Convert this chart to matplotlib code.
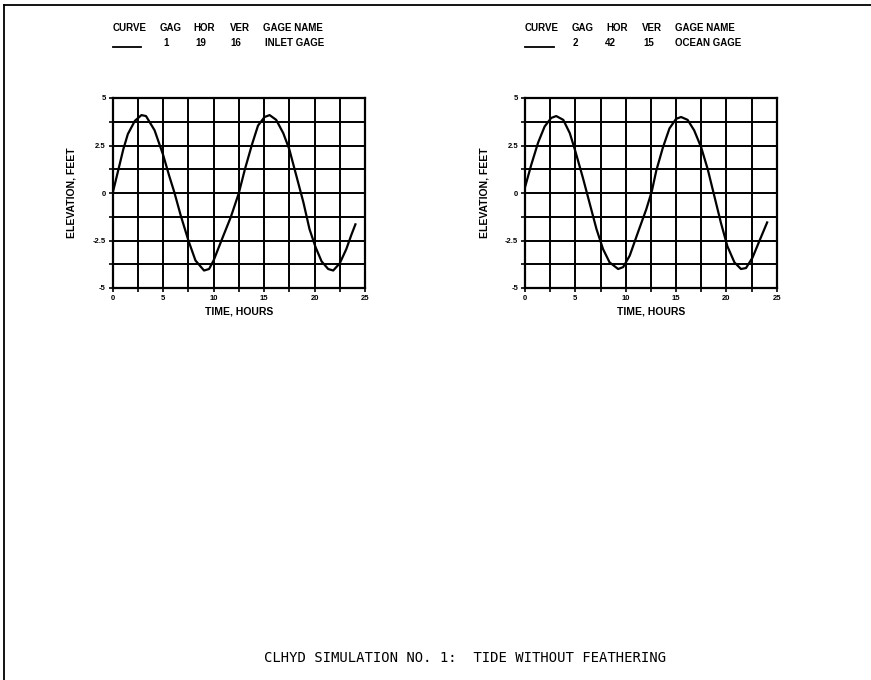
import matplotlib
matplotlib.use("Agg")
import matplotlib.pyplot as plt
from matplotlib.lines import Line2D

W, H = 871, 680

# Gage 1 (inlet) water surface elevation, feet, vs time, hours
hours_inlet = [0, 0.55, 1.05, 1.5, 2.2, 2.85, 3.3, 4.15, 5.0, 5.6, 6.1, 6.75, 7.5, 8.2,
               9.05, 9.55, 10.0, 10.85, 11.7, 12.5, 13.1, 13.8, 14.4, 15.05, 15.55, 16.2,
               16.9, 17.5, 18.2, 18.9, 19.5, 20.1, 20.7, 21.35, 21.85, 22.5, 23.15, 23.65, 24.05]
elev_inlet = [0.0, 1.2, 2.3, 3.1, 3.8, 4.1, 4.05, 3.3, 2.0, 0.9, 0.05, -1.2, -2.5, -3.55,
              -4.08, -4.0, -3.55, -2.4, -1.27, 0.0, 1.25, 2.55, 3.55, 4.0, 4.1, 3.85,
              3.15, 2.3, 0.9, -0.5, -1.9, -2.85, -3.6, -4.0, -4.08, -3.7, -2.95, -2.2, -1.65]

# Gage 2 (ocean)
hours_ocean = [0, 0.63, 1.3, 1.95, 2.6, 3.1, 3.8, 4.45, 5.0, 5.75, 6.4, 7.1, 7.75, 8.4,
               9.25, 9.75, 10.4, 11.2, 12.05, 12.6, 13.05, 13.7, 14.35, 15.0, 15.5, 16.15,
               16.8, 17.5, 18.15, 18.8, 19.45, 20.1, 20.8, 21.45, 21.95, 22.6, 23.3, 24.05]
elev_ocean = [0.3, 1.5, 2.65, 3.5, 3.95, 4.05, 3.85, 3.15, 2.2, 0.8, -0.5, -1.9, -2.95, -3.65,
              -4.0, -3.9, -3.3, -2.1, -0.85, 0.1, 1.2, 2.4, 3.4, 3.9, 4.0, 3.85,
              3.3, 2.4, 1.25, -0.15, -1.55, -2.8, -3.65, -4.0, -3.95, -3.4, -2.5, -1.55]

gage_numbers = ["1", "2"]
hor_values = ["19", "42"]
ver_values = ["16", "15"]
gage_names = ["INLET GAGE", "OCEAN GAGE"]
header_labels = ["CURVE", "GAG", "HOR", "VER", "GAGE NAME"]

x_ticks = [0, 2.5, 5, 7.5, 10, 12.5, 15, 17.5, 20, 22.5, 25]
x_labels = ["0", "", "5", "", "10", "", "15", "", "20", "", "25"]
y_ticks = [-5, -3.75, -2.5, -1.25, 0, 1.25, 2.5, 3.75, 5]
y_labels = ["-5", "", "-2.5", "", "0", "", "2.5", "", "5"]

title = "CLHYD SIMULATION NO. 1:  TIDE WITHOUT FEATHERING"

SANS = ["Liberation Sans", "DejaVu Sans"]

fig = plt.figure(figsize=(W / 100, H / 100), dpi=100)
fig.patch.set_facecolor("white")


def fx(px):
    return px / W


def fy(py):
    return 1 - py / H


def ptext(x, y, s, **kw):
    fig.text(fx(x), fy(y), s, **kw)


# sheet border (top and left edges)
fig.add_artist(Line2D([fx(4), fx(871)], [fy(5), fy(5)], color="black", lw=1.3))
fig.add_artist(Line2D([fx(4), fx(4)], [fy(5), fy(680)], color="black", lw=1.3))

panels = [
    dict(left=112.7, right=365.0, hours=hours_inlet, elev=elev_inlet, idx=0,
         hx=[113, 160, 193, 230, 263], vx=[163, 195, 230, 265], line=(113, 141)),
    dict(left=525.0, right=776.7, hours=hours_ocean, elev=elev_ocean, idx=1,
         hx=[525, 572, 606, 642, 675], vx=[573, 605, 643, 675], line=(525, 554)),
]
top_px, bot_px = 98.0, 288.0

for p in panels:
    ax = fig.add_axes([fx(p["left"]), fy(bot_px), (p["right"] - p["left"]) / W,
                       (bot_px - top_px) / H])
    ax.plot(p["hours"], p["elev"], color="black", lw=1.6, solid_joinstyle="round")
    ax.set_xlim(0, 25)
    ax.set_ylim(-5, 5)
    ax.set_xticks(x_ticks)
    ax.set_xticklabels(x_labels)
    ax.set_yticks(y_ticks)
    ax.set_yticklabels(y_labels)
    ax.grid(True, color="black", lw=1.4)
    ax.set_axisbelow(False)
    for s in ax.spines.values():
        s.set_linewidth(1.6)
    ax.tick_params(direction="out", length=3, width=1.2, pad=2, labelsize=5.5)
    for lab in ax.get_xticklabels() + ax.get_yticklabels():
        lab.set_fontweight("bold")
        lab.set_family(SANS)

    xc = (p["left"] + p["right"]) / 2
    ptext(xc, 312, "TIME, HOURS", ha="center", va="center", fontsize=7.5,
          fontweight="bold", family=SANS)
    ptext(p["left"] - 41, 193, "ELEVATION, FEET", ha="center", va="center",
          rotation=90, fontsize=7.5, fontweight="bold", family=SANS)

    # curve identification block
    for x, s in zip(p["hx"], header_labels):
        ptext(x, 28, s, ha="left", va="center", fontsize=7, fontweight="bold",
              family=SANS)
    i = p["idx"]
    for x, s in zip(p["vx"], [gage_numbers[i], hor_values[i], ver_values[i], gage_names[i]]):
        ptext(x, 43, s, ha="left", va="center", fontsize=7, fontweight="bold",
              family=SANS)
    x0, x1 = p["line"]
    fig.add_artist(Line2D([fx(x0), fx(x1)], [fy(47), fy(47)], color="black", lw=1.3))

ptext(465, 658, title, ha="center", va="center", fontsize=10, family="DejaVu Sans Mono")

fig.savefig("out.png", dpi=100, facecolor="white")
